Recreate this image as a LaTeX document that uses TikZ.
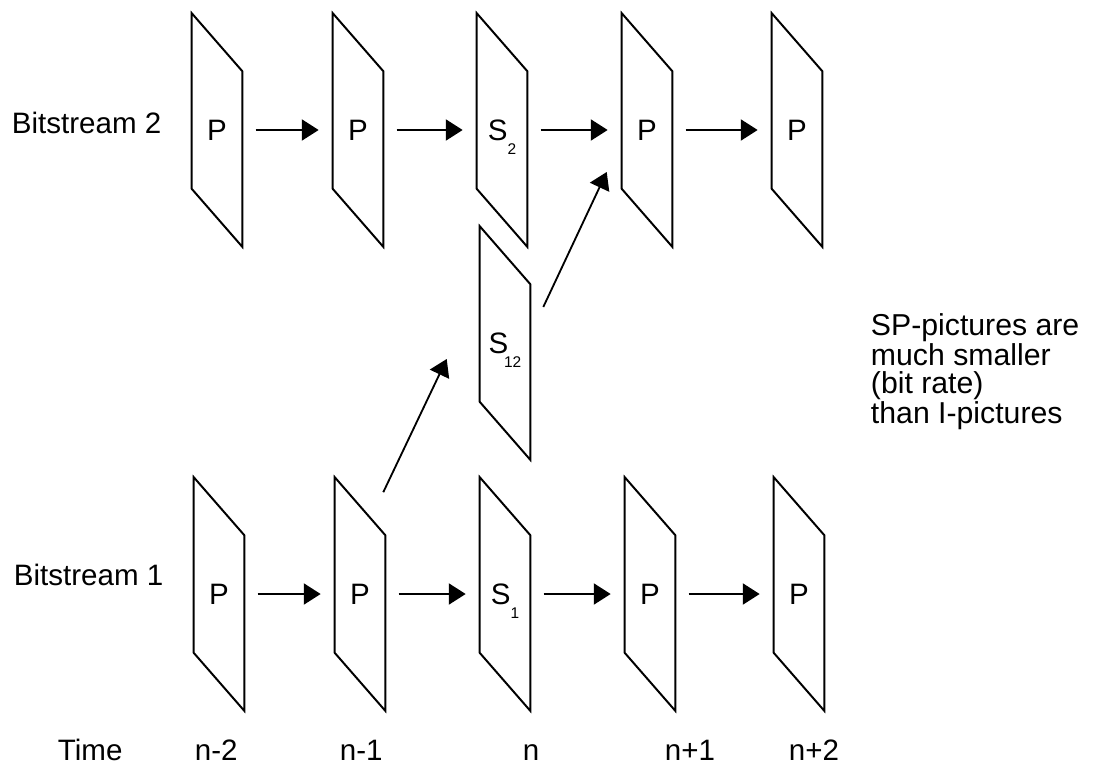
\documentclass[tikz,border=0pt]{standalone}
\usepackage{fontspec}
\setmainfont{Liberation Sans}
\usepackage{tikz}
\usetikzlibrary{positioning, arrows.meta}

\newcommand{\subidx}[1]{\raisebox{-0.5em}[0pt][0pt]{\fontsize{11pt}{11pt}\selectfont #1}}

\begin{document}
\begin{tikzpicture}[x=0.025cm, y=-0.025cm,
  every node/.style={font=\fontsize{21pt}{19.9pt}\selectfont},
  frame/.style={minimum width=1.25cm, minimum height=5.825cm, inner sep=0pt},
  outline/.style={line width=1.4pt, line join=miter},
  flow/.style={line width=1.3pt, -{Triangle[length=12pt,width=15pt]}}] % pixel-like units
   \useasboundingbox (0,0) rectangle (1108,775);
   % Bitstream 2
   \node[frame] (t1) at (217,130) {P};
   \node[frame] (t2) at (358,130) {P};
   \node[frame] (t3) at (502,130) {S\subidx{2}};
   \node[frame] (t4) at (647,130) {P};
   \node[frame] (t5) at (797,130) {P};
   % switching picture
   \node[frame] (s12) at (505,343) {S\kern-3pt\subidx{12}};
   % Bitstream 1
   \node[frame] (b1) at (219,594) {P};
   \node[frame] (b2) at (360,594) {P};
   \node[frame] (b3) at (505,594) {S\subidx{1}};
   \node[frame] (b4) at (650,594) {P};
   \node[frame] (b5) at (799,594) {P};
   % slanted outlines of the pictures
   \foreach \f in {t1,t2,t3,t4,t5,s12,b1,b2,b3,b4,b5}
   {\draw[outline] (\f.north west) -- ([shift={(0,-58)}]\f.south west) -- (\f.south east) -- ([shift={(0,58)}]\f.north east) -- cycle;}
   % prediction arrows
   \foreach \u/\v in {t1/t2,t2/t3,t3/t4,t4/t5,b1/b2,b2/b3,b3/b4,b4/b5}
   {\draw[flow, shorten <=9.5pt, shorten >=10pt] (\u.east) -- (\v.west);}
   \draw[flow] ([shift={(-2,15)}]b2.north east) -- ([shift={(-33,16)}]s12.west);
   \draw[flow] ([shift={(13,-36)}]s12.east) -- ([shift={(-15,42)}]t4.west);
   % labels
   \node[anchor=base west] (bs2) at (7,133) {Bitstream 2};
   \node[anchor=base west] (bs1) at (9,585) {Bitstream 1};
   \node[anchor=north west, align=left, font=\fontsize{21.5pt}{19.9pt}\selectfont] (note) at (866,309) {SP-pictures are\\much smaller\\(bit rate)\\than I-pictures};
   % time axis
   \node[anchor=base west] (time) at (53,760) {Time};
   \node[anchor=base west] (tm2) at (190,760) {n-2};
   \node[anchor=base west] (tm1) at (335,760) {n-1};
   \node[anchor=base west] (tn) at (518,760) {n};
   \node[anchor=base west] (tp1) at (660,760) {n+1};
   \node[anchor=base west] (tp2) at (784,760) {n+2};
\end{tikzpicture}
\end{document}
